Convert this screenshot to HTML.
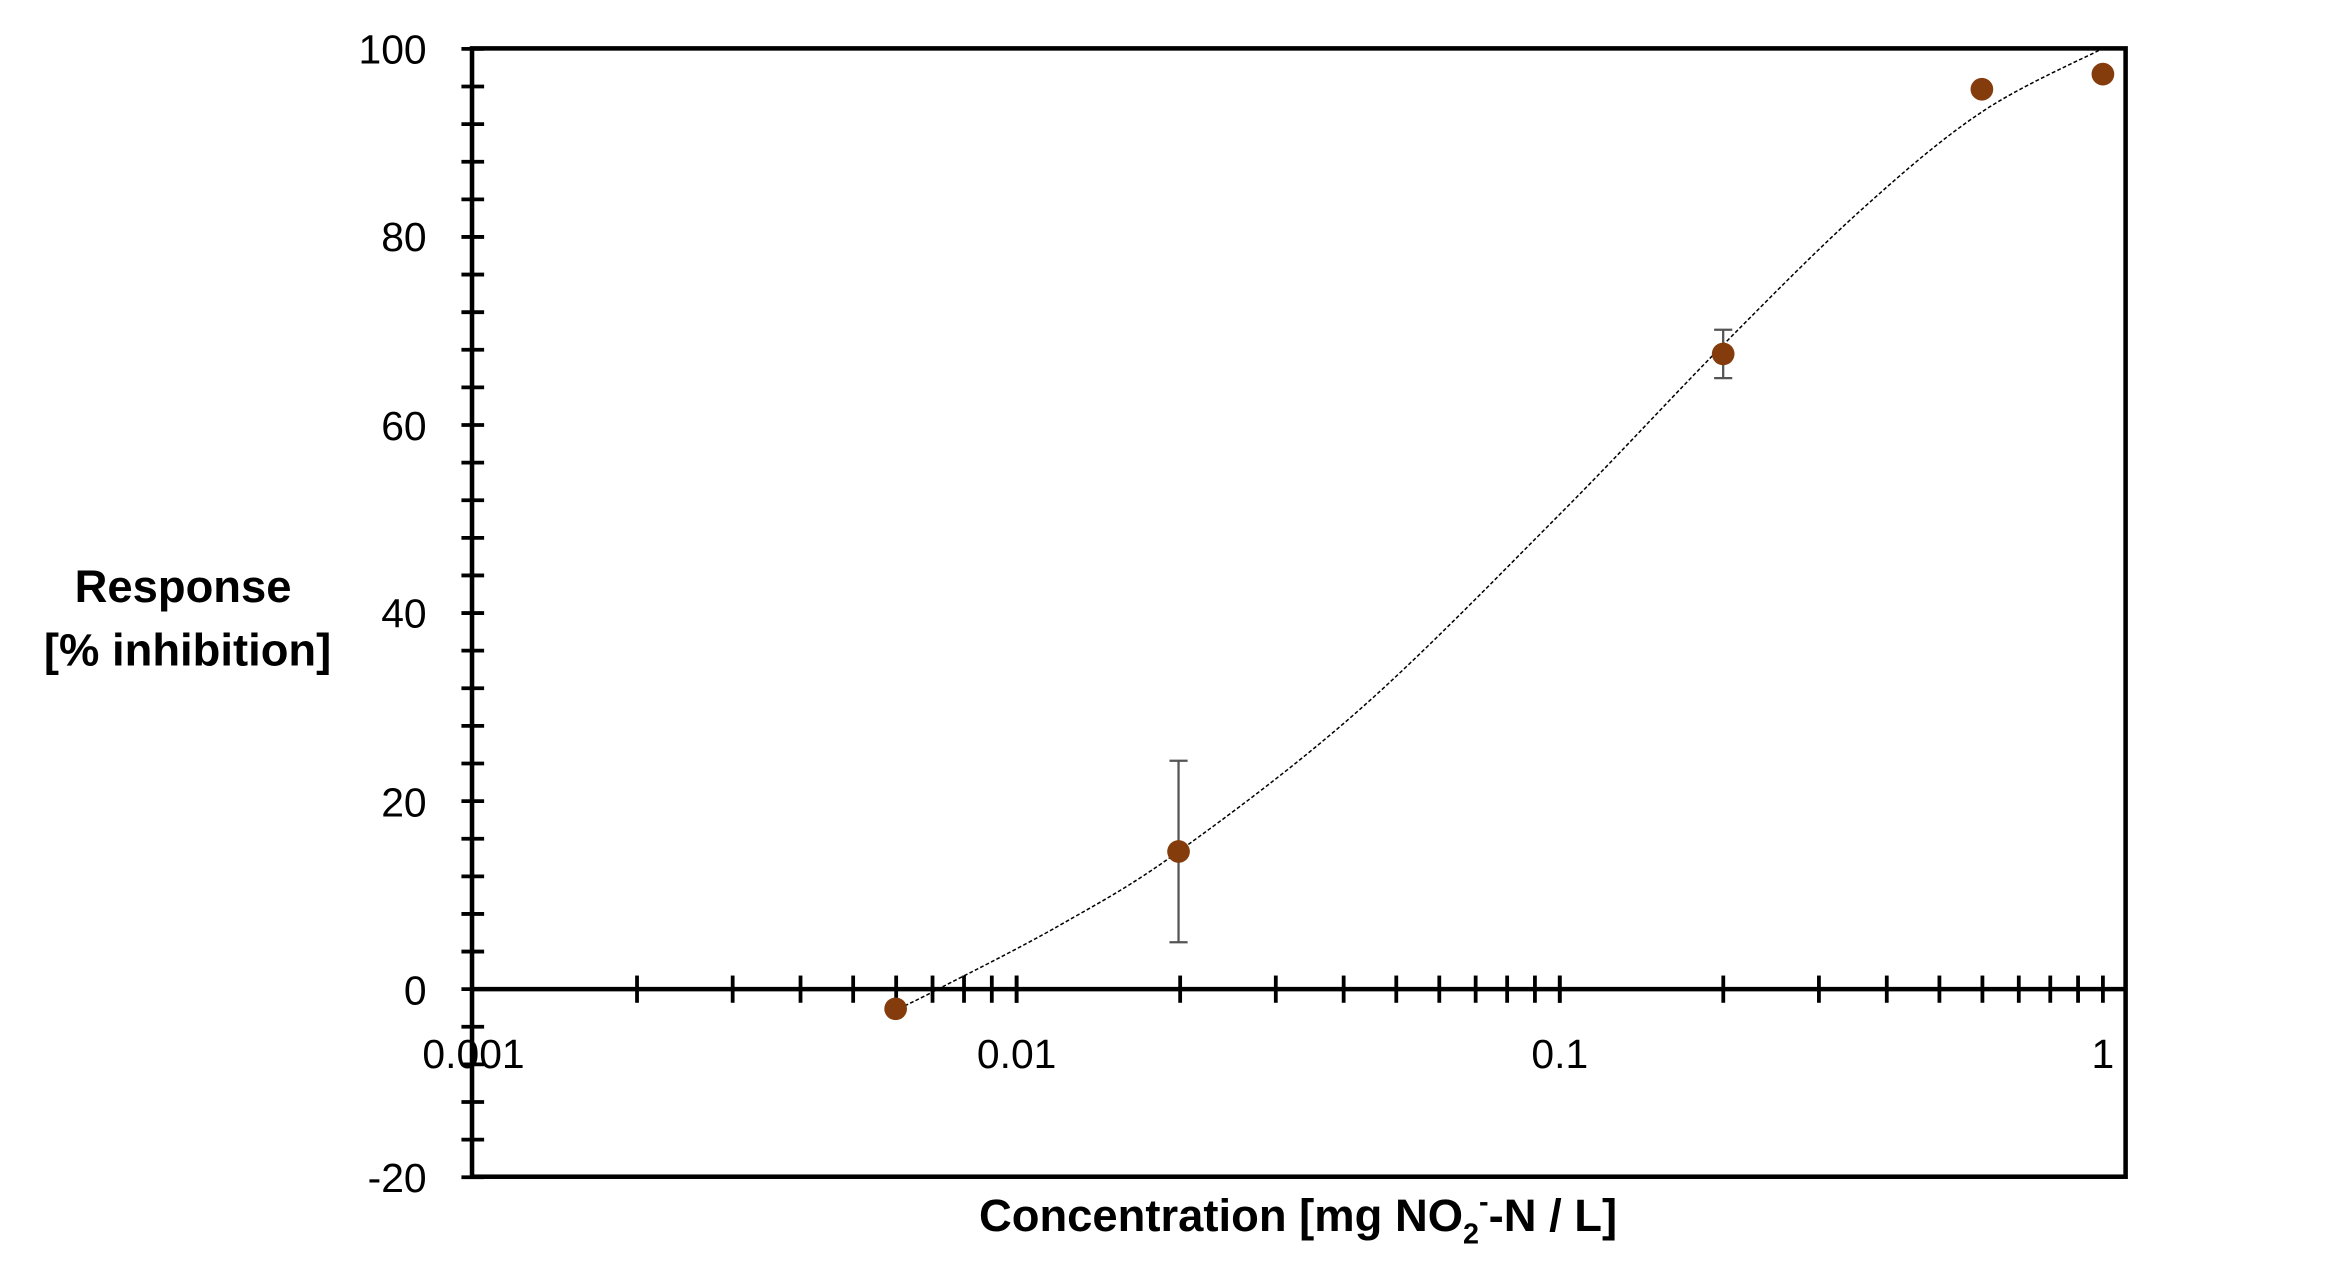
<!DOCTYPE html>
<html><head><meta charset="utf-8"><style>
html,body{margin:0;padding:0;background:#fff;width:2348px;height:1272px;overflow:hidden}
svg{display:block}
text{font-family:"Liberation Sans",sans-serif}
</style></head><body>
<svg id="s" width="2348" height="1272" viewBox="0 0 1552 841" preserveAspectRatio="none">
<g id="ticks" stroke="#000" stroke-width="2.5"></g>
<rect x="312" y="32" width="1093" height="746" fill="none" stroke="#000" stroke-width="3"/>
<line x1="312" y1="654" x2="1405" y2="654" stroke="#000" stroke-width="3"/>
<path id="curve" fill="none" stroke="#000" stroke-width="1" stroke-dasharray="2.5,1.5"/>
<g stroke="#555" stroke-width="1.5">
<line x1="779" y1="503" x2="779" y2="623"/><line x1="773" y1="503" x2="785" y2="503"/><line x1="773" y1="623" x2="785" y2="623"/>
<line x1="1139" y1="218" x2="1139" y2="250"/><line x1="1133" y1="218" x2="1145" y2="218"/><line x1="1133" y1="250" x2="1145" y2="250"/>
</g>
<g fill="#843c0c">
<circle cx="592" cy="667" r="7.5"/><circle cx="779" cy="563" r="7.5"/><circle cx="1139" cy="234" r="7.5"/><circle cx="1310" cy="59" r="7.5"/><circle cx="1390" cy="49" r="7.5"/>
</g>
<g font-size="27" fill="#000" text-anchor="end">
<text x="282" y="42">100</text><text x="282" y="166">80</text><text x="282" y="291">60</text><text x="282" y="415">40</text><text x="282" y="540">20</text><text x="282" y="664">0</text><text x="282" y="788">-20</text>
</g>
<g font-size="27" fill="#000" text-anchor="middle">
<text x="313" y="706">0.001</text><text x="672" y="706">0.01</text><text x="1031" y="706">0.1</text><text x="1390" y="706">1</text>
</g>
<g font-size="30" font-weight="bold" fill="#000" text-anchor="middle">
<text x="121" y="398">Response</text><text x="124" y="440">[% inhibition]</text>
<text x="858" y="814">Concentration [mg NO<tspan font-size="19" dy="8">2</tspan><tspan font-size="19" dy="-21">-</tspan><tspan dy="13">-N / L]</tspan></text>
</g>
</svg>
<script>
var g=document.getElementById('ticks'),ns='http://www.w3.org/2000/svg';
function L(a,b,c,d){var l=document.createElementNS(ns,'line');l.setAttribute('x1',a);l.setAttribute('y1',b);l.setAttribute('x2',c);l.setAttribute('y2',d);g.appendChild(l);}
for(var v=-20;v<=100;v+=4){var y=654-v*6.2167;L(305,y,320,y);}
for(var d=-3;d<0;d++)for(var k=1;k<=10;k++){var x=313+(d+3+Math.log10(k))*359;if(x>313&&x<1400)L(x,645,x,663);}
var P=[[598,665],[620,654],[700,612],[779,563],[900,468],[1031,340],[1139,228],[1230,139],[1310,74],[1390,32]];
var s='M'+P[0][0]+','+P[0][1];
for(var i=0;i<P.length-1;i++){var p0=P[Math.max(i-1,0)],p1=P[i],p2=P[i+1],p3=P[Math.min(i+2,P.length-1)];
s+=' C'+(p1[0]+(p2[0]-p0[0])/6)+','+(p1[1]+(p2[1]-p0[1])/6)+' '+(p2[0]-(p3[0]-p1[0])/6)+','+(p2[1]-(p3[1]-p1[1])/6)+' '+p2[0]+','+p2[1];}
document.getElementById('curve').setAttribute('d',s);
</script>
</body></html>
